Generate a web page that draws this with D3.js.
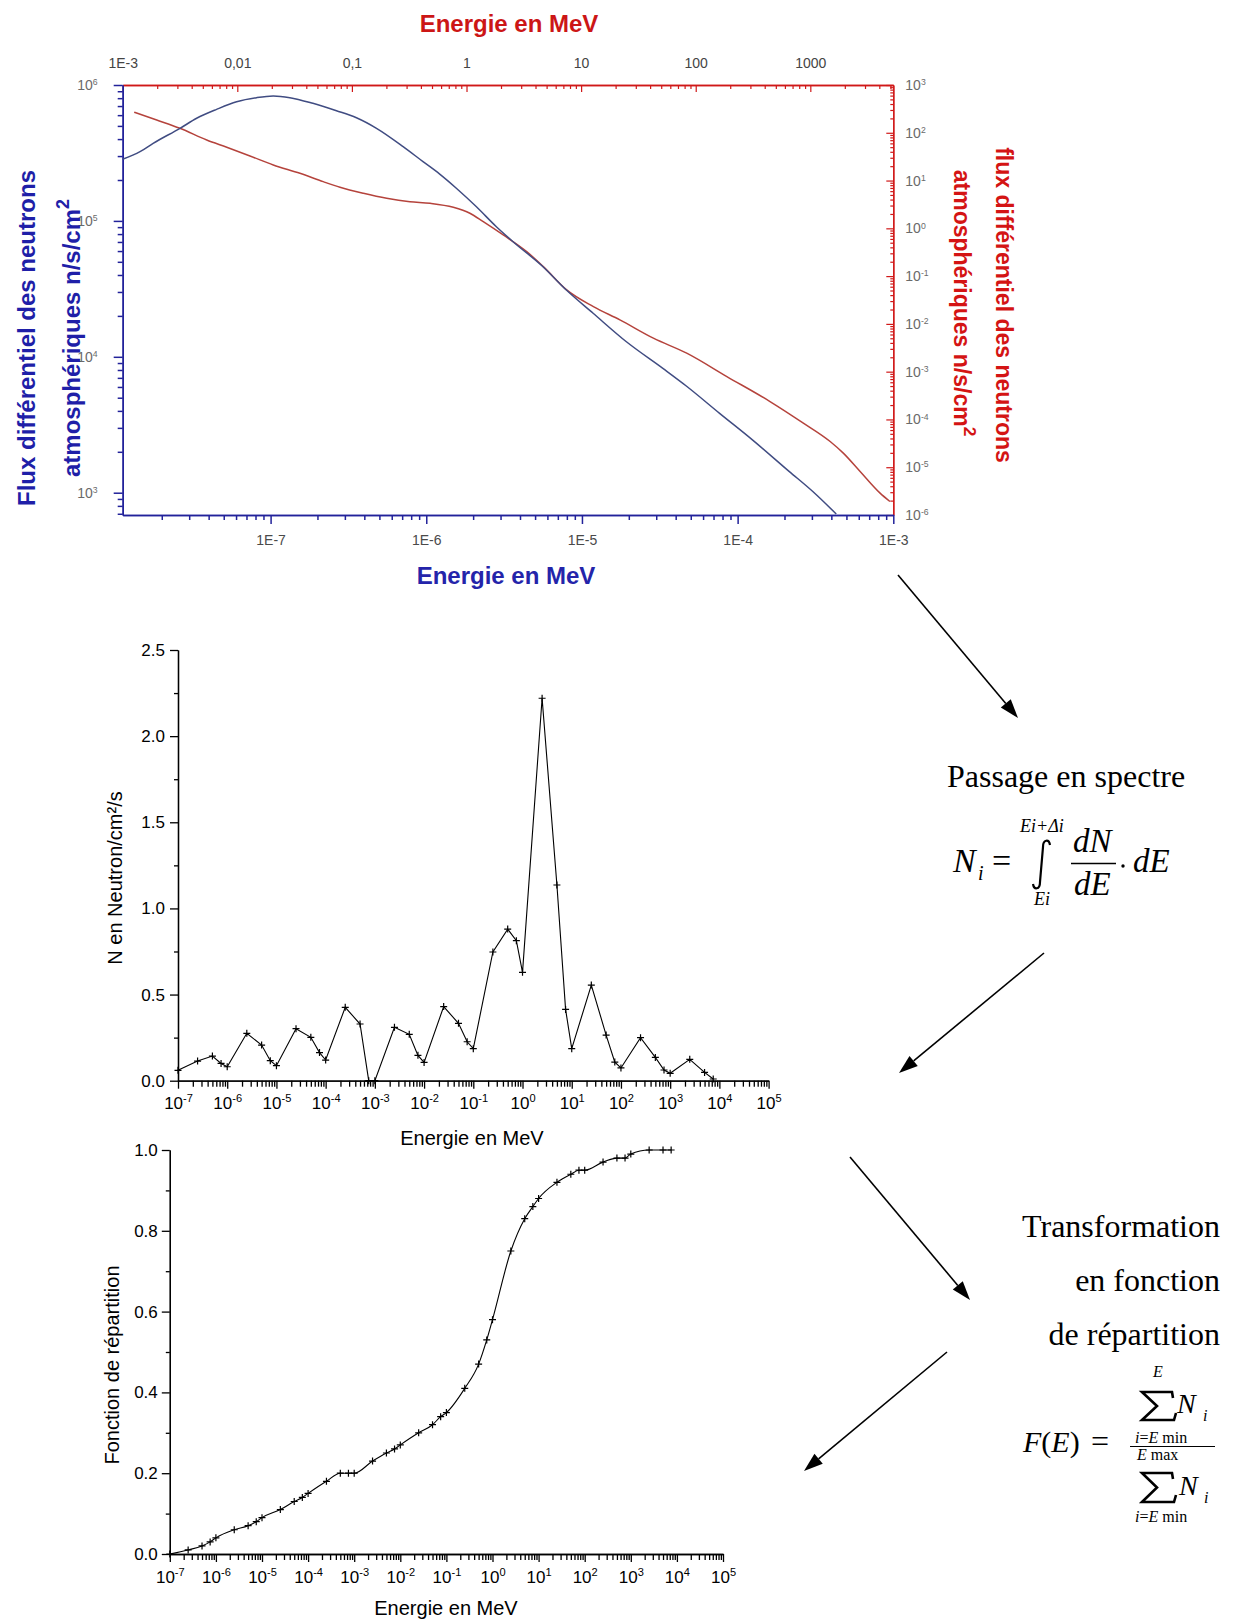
<!DOCTYPE html>
<html><head><meta charset="utf-8">
<script src="https://cdn.jsdelivr.net/npm/d3@7"></script>
<style>body{margin:0;background:#fff}svg{display:block}</style>
</head><body>
<svg id="c" width="1234" height="1621"></svg>
<script>
// ================= DATA =================
// Top chart – blue curve (bottom energy axis in MeV, left flux axis)
const blueEnergy = [1.12e-8,1.45e-8,1.76e-8,2.62e-8,3.35e-8,4.50e-8,6.05e-8,8.13e-8,1.04e-7,1.33e-7,1.87e-7,2.65e-7,3.56e-7,4.79e-7,7.10e-7,9.53e-7,1.22e-6,1.56e-6,2.10e-6,2.82e-6,3.61e-6,5.62e-6,7.94e-6,1.18e-5,1.93e-5,3.31e-5,4.68e-5,7.66e-5,1.25e-4,2.15e-4,3.04e-4,4.30e-4];
const blueFlux   = [2.84e5,3.23e5,3.72e5,4.80e5,5.69e5,6.62e5,7.53e5,8.07e5,8.30e5,8.07e5,7.33e5,6.47e5,5.74e5,4.80e5,3.52e5,2.73e5,2.21e5,1.74e5,1.27e5,9.06e4,7.03e4,4.60e4,3.10e4,2.09e4,1.29e4,8.22e3,6.10e3,3.84e3,2.44e3,1.43e3,1.02e3,697];
// Top chart – red curve (top energy axis in MeV, right flux axis)
const redEnergy = [1.26e-3,1.98e-3,3.16e-3,5.41e-3,8.09e-3,1.29e-2,2.06e-2,3.52e-2,5.62e-2,7.87e-2,0.126,0.201,0.321,0.481,0.767,1.07,1.40,2.09,3.35,4.68,7.48,12.8,21.8,42.7,83.4,187,445,869,1490,1940,2720,4060,4950];
const redFlux   = [269,185,124,70.6,49.8,32.7,21.2,14.2,9.48,7.24,5.42,4.27,3.62,3.35,2.76,2.07,1.38,0.728,0.326,0.158,0.0514,0.0230,0.0121,5.02e-3,2.44e-3,7.89e-4,2.37e-4,8.38e-5,3.45e-5,1.97e-5,8.13e-6,2.87e-6,1.92e-6];
const topTickValues = [1e-3,1e-2,1e-1,1,10,100,1000];
const topTickLabels = ["1E-3","0,01","0,1","1","10","100","1000"];
const bottomTickValues = [1e-7,1e-6,1e-5,1e-4,1e-3];
const bottomTickLabels = ["1E-7","1E-6","1E-5","1E-4","1E-3"];
const leftTickValues = [1e3,1e4,1e5,1e6];
const rightTickValues = [1e-6,1e-5,1e-4,1e-3,1e-2,1e-1,1,10,100,1000];

// Spectrum (middle) and distribution function (bottom)
const spectrumEnergy = [1e-7,2.5e-7,5e-7,7.5e-7,1e-6,2.5e-6,5e-6,7.5e-6,1e-5,2.5e-5,5e-5,7.5e-5,1e-4,2.5e-4,5e-4,7.5e-4,1e-3,2.5e-3,5e-3,7.5e-3,1e-2,2.5e-2,5e-2,7.5e-2,0.1,0.25,0.5,0.75,1,2.5,5,7.5,10,25,50,75,100,250,500,750,1000,2500,5000,7500];
const spectrumN = [0.06,0.114,0.143,0.10,0.081,0.275,0.207,0.116,0.087,0.302,0.252,0.163,0.12,0.426,0.329,0.0,0.0,0.31,0.269,0.147,0.106,0.43,0.333,0.226,0.186,0.747,0.88,0.813,0.629,2.22,1.136,0.414,0.186,0.555,0.265,0.108,0.074,0.25,0.135,0.062,0.043,0.124,0.048,0.01];
const cdfF = [0.0,0.01,0.02,0.03,0.04,0.06,0.07,0.08,0.09,0.11,0.13,0.14,0.15,0.18,0.20,0.20,0.20,0.23,0.25,0.26,0.27,0.30,0.32,0.34,0.35,0.41,0.47,0.53,0.58,0.75,0.83,0.86,0.88,0.92,0.94,0.95,0.95,0.97,0.98,0.98,0.99,1.0,1.0,1.0];
const decadeTicks = [1e-7,1e-6,1e-5,1e-4,1e-3,1e-2,1e-1,1,10,100,1000,1e4,1e5];
const spectrumYTicks = [0,0.5,1.0,1.5,2.0,2.5];
const spectrumYMinor = [0.25,0.75,1.25,1.75,2.25];
const cdfYTicks = [0,0.2,0.4,0.6,0.8,1.0];
const cdfYMinor = [0.1,0.3,0.5,0.7,0.9];

// ================= DRAW =================
const svg = d3.select("#c");
svg.append("rect").attr("width",1234).attr("height",1621).attr("fill","#fff");
const SANS = "'Liberation Sans', Arial, Helvetica, sans-serif";
const SERIF = "'Liberation Serif', 'Times New Roman', Times, serif";

function minorTicks(lo, hi){
  const out=[];
  for(let n=Math.floor(Math.log10(lo))-1;n<=Math.ceil(Math.log10(hi));n++)
    for(let k=2;k<=9;k++){const v=k*Math.pow(10,n); if(v>lo*1.0001 && v<hi*0.9999) out.push(v);}
  return out;
}
function styleAxis(g, color, textColor, size, width){
  g.attr("font-family",SANS).attr("font-size",size);
  g.select(".domain").attr("stroke",color).attr("stroke-width",width||1.3);
  g.selectAll(".tick line").attr("stroke",color).attr("stroke-width",width||1.2);
  g.selectAll(".tick text").attr("fill",textColor);
}
function powLabels(g, supScale, dyUp){
  g.selectAll(".tick text").each(function(d){
    const t=d3.select(this); const e=Math.round(Math.log10(d));
    t.text("10");
    t.append("tspan").attr("dy",dyUp||"-0.55em").attr("font-size",supScale||"0.62em").text(e);
  });
}

// ---------- Top chart ----------
const T = {l:122.7, r:893.3, t:85, b:515};
const xB = d3.scaleLog().domain([1.122e-8,1e-3]).range([T.l,T.r]);
const xT = d3.scaleLog().domain([1e-3,5297]).range([T.l,T.r]);
const yL = d3.scaleLog().domain([685.5,1e6]).range([T.b,T.t]);
const yR = d3.scaleLog().domain([1e-6,1e3]).range([T.b,T.t]);
const NAVY="#22229a", RED="#d01818";

// top axis (red)
let g = svg.append("g").attr("transform",`translate(0,${T.t})`)
  .call(d3.axisTop(xT).tickValues(minorTicks(1e-3,5297)).tickSize(-4).tickSizeOuter(0).tickFormat(""));
styleAxis(g,RED,"#555",14);
g = svg.append("g").attr("transform",`translate(0,${T.t})`)
  .call(d3.axisTop(xT).tickValues(topTickValues).tickSize(-7).tickSizeOuter(0).tickPadding(17).tickFormat((d,i)=>topTickLabels[i]));
styleAxis(g,RED,"#444",14);
// right axis (red)
g = svg.append("g").attr("transform",`translate(${T.r},0)`)
  .call(d3.axisRight(yR).tickValues(minorTicks(1e-6,1e3)).tickSize(-3).tickSizeOuter(0).tickFormat(""));
styleAxis(g,RED,"#777",14);
g = svg.append("g").attr("transform",`translate(${T.r},0)`)
  .call(d3.axisRight(yR).tickValues(rightTickValues).tickSize(-7).tickSizeOuter(0).tickPadding(12));
styleAxis(g,RED,"#6a6a6a",14); powLabels(g);
// bottom axis (navy)
g = svg.append("g").attr("transform",`translate(0,${T.b})`)
  .call(d3.axisBottom(xB).tickValues(minorTicks(1.122e-8,1e-3)).tickSize(5).tickSizeOuter(0).tickFormat(""));
styleAxis(g,NAVY,"#555",14,1.5);
g = svg.append("g").attr("transform",`translate(0,${T.b})`)
  .call(d3.axisBottom(xB).tickValues(bottomTickValues).tickSize(9).tickSizeOuter(0).tickPadding(11).tickFormat((d,i)=>bottomTickLabels[i]));
styleAxis(g,NAVY,"#4a4a4a",14,1.5);
// left axis (navy)
g = svg.append("g").attr("transform",`translate(${T.l},0)`)
  .call(d3.axisLeft(yL).tickValues(minorTicks(685.5,1e6)).tickSize(5).tickSizeOuter(0).tickFormat(""));
styleAxis(g,NAVY,"#777",14,1.5);
g = svg.append("g").attr("transform",`translate(${T.l},0)`)
  .call(d3.axisLeft(yL).tickValues(leftTickValues).tickSize(9).tickSizeOuter(0).tickPadding(16));
styleAxis(g,NAVY,"#6a6a6a",14,1.5); powLabels(g);

// curves
const blueLine = d3.line().x(d=>xB(d[0])).y(d=>yL(d[1])).curve(d3.curveMonotoneX);
const redLine = d3.line().x(d=>xT(d[0])).y(d=>yR(d[1])).curve(d3.curveMonotoneX);
svg.append("path").attr("d",redLine(d3.zip(redEnergy,redFlux))).attr("fill","none").attr("stroke","#b5433c").attr("stroke-width",1.5);
svg.append("path").attr("d",blueLine(d3.zip(blueEnergy,blueFlux))).attr("fill","none").attr("stroke","#404c82").attr("stroke-width",1.5);

// titles
svg.append("text").attr("x",509).attr("y",32).attr("text-anchor","middle").attr("font-family",SANS).attr("font-weight","bold").attr("font-size",24).attr("fill","#cc1616").text("Energie en MeV");
svg.append("text").attr("x",506).attr("y",584).attr("text-anchor","middle").attr("font-family",SANS).attr("font-weight","bold").attr("font-size",24).attr("fill","#2424aa").text("Energie en MeV");
function rotTitle(x,y,angle,size,color,parts){
  const t=svg.append("text").attr("transform",`translate(${x},${y}) rotate(${angle})`).attr("text-anchor","middle")
    .attr("font-family",SANS).attr("font-weight","bold").attr("font-size",size).attr("fill",color);
  parts.forEach(p=>{const s=t.append("tspan").text(p.t); if(p.sup){s.attr("dy","-0.6em").attr("font-size","0.75em");}});
}
rotTitle(35,338,-90,24,"#1f1fa8",[{t:"Flux différentiel des neutrons"}]);
rotTitle(80,338,-90,24,"#1f1fa8",[{t:"atmosphériques n/s/cm"},{t:"2",sup:true}]);
rotTitle(996,305,90,23,"#d41414",[{t:"flux différentiel des neutrons"}]);
rotTitle(954,303,90,23,"#d41414",[{t:"atmosphériques n/s/cm"},{t:"2",sup:true}]);

// ---------- Middle chart (spectrum) ----------
const xM = d3.scaleLog().domain([1e-7,1e5]).range([178,768.6]);
const yM = d3.scaleLinear().domain([0,2.5]).range([1080.7,650]);
g = svg.append("g").attr("transform","translate(0,1080.7)")
  .call(d3.axisBottom(xM).tickValues(minorTicks(1e-7,1e5)).tickSize(6).tickSizeOuter(0).tickFormat(""));
styleAxis(g,"#000","#000",17,1.3);
g = svg.append("g").attr("transform","translate(0,1080.7)")
  .call(d3.axisBottom(xM).tickValues(decadeTicks).tickSize(8).tickSizeOuter(0).tickPadding(8));
styleAxis(g,"#000","#000",17,1.3); powLabels(g,"0.65em","-0.6em");
g = svg.append("g").attr("transform","translate(178,0)")
  .call(d3.axisLeft(yM).tickValues(spectrumYMinor).tickSize(4).tickSizeOuter(0).tickFormat(""));
styleAxis(g,"#000","#000",17,1.3);
g = svg.append("g").attr("transform","translate(178,0)")
  .call(d3.axisLeft(yM).tickValues(spectrumYTicks).tickSize(8).tickSizeOuter(0).tickPadding(5).tickFormat(d3.format(".1f")));
styleAxis(g,"#000","#000",17,1.3);
const specPts = d3.zip(spectrumEnergy,spectrumN);
svg.append("path").attr("d",d3.line().x(d=>xM(d[0])).y(d=>yM(d[1]))(specPts)).attr("fill","none").attr("stroke","#000").attr("stroke-width",1.1);
svg.append("g").selectAll("path").data(specPts).join("path")
  .attr("d",d=>{const x=xM(d[0]),y=yM(d[1]);return `M${x-3.5},${y}H${x+3.5}M${x},${y-3.5}V${y+3.5}`;})
  .attr("stroke","#000").attr("stroke-width",1.2);
svg.append("text").attr("x",472).attr("y",1145).attr("text-anchor","middle").attr("font-family",SANS).attr("font-size",20).text("Energie en MeV");
svg.append("text").attr("transform","translate(122,878) rotate(-90)").attr("text-anchor","middle").attr("font-family",SANS).attr("font-size",20).text("N en Neutron/cm²/s");

// ---------- Bottom chart (distribution function) ----------
const xC = d3.scaleLog().domain([1e-7,1e5]).range([169.8,723]);
const yC = d3.scaleLinear().domain([0,1]).range([1554,1150]);
g = svg.append("g").attr("transform","translate(0,1554)")
  .call(d3.axisBottom(xC).tickValues(minorTicks(1e-7,1e5)).tickSize(6).tickSizeOuter(0).tickFormat(""));
styleAxis(g,"#000","#000",17,1.3);
g = svg.append("g").attr("transform","translate(0,1554)")
  .call(d3.axisBottom(xC).tickValues(decadeTicks).tickSize(8).tickSizeOuter(0).tickPadding(9));
styleAxis(g,"#000","#000",17,1.3); powLabels(g,"0.65em","-0.6em");
g = svg.append("g").attr("transform","translate(169.8,0)")
  .call(d3.axisLeft(yC).tickValues(cdfYMinor).tickSize(4).tickSizeOuter(0).tickFormat(""));
styleAxis(g,"#000","#000",17,1.3);
g = svg.append("g").attr("transform","translate(169.8,0)")
  .call(d3.axisLeft(yC).tickValues(cdfYTicks).tickSize(8).tickSizeOuter(0).tickPadding(4).tickFormat(d3.format(".1f")));
styleAxis(g,"#000","#000",17,1.3);
const cdfPts = d3.zip(spectrumEnergy,cdfF);
svg.append("path").attr("d",d3.line().x(d=>xC(d[0])).y(d=>yC(d[1])).curve(d3.curveMonotoneX)(cdfPts)).attr("fill","none").attr("stroke","#000").attr("stroke-width",1.1);
svg.append("g").selectAll("path").data(cdfPts).join("path")
  .attr("d",d=>{const x=xC(d[0]),y=yC(d[1]);return `M${x-3.5},${y}H${x+3.5}M${x},${y-3.5}V${y+3.5}`;})
  .attr("stroke","#000").attr("stroke-width",1.2);
svg.append("text").attr("x",446).attr("y",1615).attr("text-anchor","middle").attr("font-family",SANS).attr("font-size",20).text("Energie en MeV");
svg.append("text").attr("transform","translate(119,1365) rotate(-90)").attr("text-anchor","middle").attr("font-family",SANS).attr("font-size",20).text("Fonction de répartition");

// ---------- Arrows ----------
function arrow(x1,y1,x2,y2){
  const a=Math.atan2(y2-y1,x2-x1), L=19, W=6.5;
  const bx=x2-L*Math.cos(a), by=y2-L*Math.sin(a);
  svg.append("line").attr("x1",x1).attr("y1",y1).attr("x2",bx).attr("y2",by).attr("stroke","#000").attr("stroke-width",1.6);
  svg.append("path").attr("d",`M${x2},${y2}L${bx+W*Math.sin(a)},${by-W*Math.cos(a)}L${bx-W*Math.sin(a)},${by+W*Math.cos(a)}Z`).attr("fill","#000");
}
arrow(898,575,1018,718);
arrow(1044,953,899,1073);
arrow(850,1157,970,1300);
arrow(947,1352,804,1471);

// ---------- Text & formulas ----------
function txt(x,y,s,size,o){
  o=o||{};
  return svg.append("text").attr("x",x).attr("y",y).attr("font-family",SERIF).attr("font-size",size)
    .attr("font-style",o.it?"italic":"normal").attr("text-anchor",o.anchor||"start").text(s);
}
txt(947,787,"Passage en spectre",32);
txt(953,872,"N",34,{it:1});
txt(978,880,"i",20,{it:1});
txt(992,872,"=",34);
svg.append("path").attr("d","M1050,845 C1049,839 1043,839 1043,847 L1040,882 C1040,890 1034,890 1033,884").attr("fill","none").attr("stroke","#000").attr("stroke-width",2.2);
txt(1020,832,"Ei+Δi",18,{it:1});
txt(1034,905,"Ei",18,{it:1});
txt(1073,852,"dN",33,{it:1});
svg.append("line").attr("x1",1071).attr("x2",1116).attr("y1",863.5).attr("y2",863.5).attr("stroke","#000").attr("stroke-width",1.3);
txt(1074,895,"dE",33,{it:1});
svg.append("circle").attr("cx",1123).attr("cy",866).attr("r",1.7).attr("fill","#000");
txt(1133,872,"dE",33,{it:1});

txt(1220,1237,"Transformation",32,{anchor:"end"});
txt(1220,1291,"en fonction",32,{anchor:"end"});
txt(1220,1345,"de répartition",32,{anchor:"end"});

const fe = svg.append("text").attr("x",1023).attr("y",1452).attr("font-family",SERIF).attr("font-size",30);
fe.append("tspan").attr("font-style","italic").text("F");
fe.append("tspan").text("(");
fe.append("tspan").attr("font-style","italic").text("E");
fe.append("tspan").text(")");
txt(1091,1452,"=",32);
function sigma(x0,top,h){
  const w=31;
  svg.append("path").attr("d",`M${x0+w},${top+6} L${x0+w-1},${top} L${x0},${top} L${x0+15},${top+h/2} L${x0},${top+h} L${x0+w+1},${top+h} L${x0+w+3},${top+h-7}`)
    .attr("fill","none").attr("stroke","#000").attr("stroke-width",2.6).attr("stroke-linejoin","miter");
}
function limit(x,y,parts){
  const t=svg.append("text").attr("x",x).attr("y",y).attr("font-family",SERIF).attr("font-size",16);
  parts.forEach(p=>t.append("tspan").attr("font-style",p[1]?"italic":"normal").text(p[0]));
}
txt(1153,1377,"E",16,{it:1});
sigma(1142,1392,28);
txt(1177,1413,"N",28,{it:1});
txt(1203,1421,"i",16,{it:1});
limit(1135,1443,[["i",1],["=",0],["E",1],[" min",0]]);
svg.append("line").attr("x1",1130).attr("x2",1215).attr("y1",1446.5).attr("y2",1446.5).attr("stroke","#000").attr("stroke-width",1.2);
limit(1137,1460,[["E",1],[" max",0]]);
sigma(1142,1473,29);
txt(1179,1495,"N",28,{it:1});
txt(1204,1503,"i",16,{it:1});
limit(1135,1522,[["i",1],["=",0],["E",1],[" min",0]]);
</script>
</body></html>
